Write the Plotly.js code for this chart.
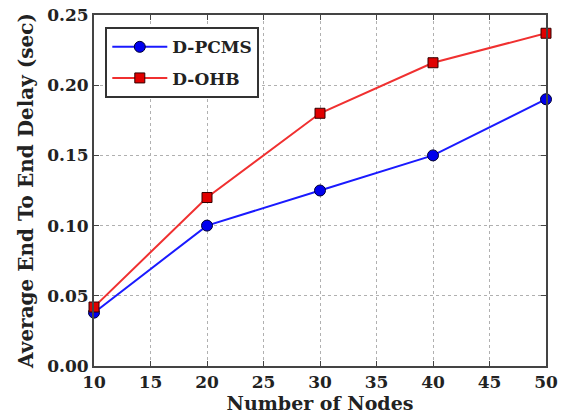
<!DOCTYPE html>
<html>
<head>
<meta charset="utf-8">
<script src="https://cdn.plot.ly/plotly-3.0.1.min.js"></script>
<style>html,body{margin:0;padding:0;background:#fff;}#chart{width:561px;height:419px;}</style>
</head>
<body>
<div id="chart"></div>
<script>
const nodes = [10, 20, 30, 40, 50];
const dpcms = [0.038, 0.100, 0.125, 0.150, 0.190];
const dohb = [0.042, 0.120, 0.180, 0.216, 0.237];
const xTicks = [10, 15, 20, 25, 30, 35, 40, 45, 50];
const yTicks = [0.00, 0.05, 0.10, 0.15, 0.20, 0.25];

const fontFam = '"DejaVu Serif", "Liberation Serif", serif';

const traces = [
  {
    x: nodes, y: dpcms, name: 'D-PCMS', legendgroup: 'g1', type: 'scatter', mode: 'lines+markers',
    line: {color: '#1a1aff', width: 2},
    marker: {symbol: 'circle', size: 11, color: '#0000ee', line: {color: '#000033', width: 1}},
    cliponaxis: false
  },
  {
    x: nodes, y: dohb, name: 'D-OHB', legendgroup: 'g2', type: 'scatter', mode: 'lines+markers',
    line: {color: '#f03030', width: 2},
    marker: {symbol: 'square', size: 10, color: '#e00000', line: {color: '#330000', width: 1}},
    cliponaxis: false
  }
];

const axisCommon = {
  showline: true, mirror: 'ticks', linecolor: '#444', linewidth: 2,
  ticks: 'inside', ticklen: 5, tickcolor: '#444', tickwidth: 1,
  showgrid: true, gridcolor: '#b0b0b0', griddash: 'dot', gridwidth: 1,
  zeroline: false,
  tickfont: {family: fontFam, size: 17, color: '#222', weight: 'bold'}
};

const layout = {
  width: 561, height: 419,
  margin: {l: 94, r: 15, t: 15, b: 53},
  paper_bgcolor: '#fff', plot_bgcolor: '#fff',
  showlegend: true,
  legend: {
    x: 0.025, y: 0.965, xanchor: 'left', yanchor: 'top',
    bordercolor: '#333', borderwidth: 2, bgcolor: '#fff',
    font: {family: fontFam, size: 17, color: '#222', weight: 'bold'},
    tracegroupgap: 6, itemwidth: 55
  },
  xaxis: Object.assign({}, axisCommon, {
    range: [10, 50], tickvals: xTicks, ticktext: xTicks.map(String),
    title: {text: 'Number of Nodes', standoff: 2,
            font: {family: fontFam, size: 19, color: '#222', weight: 'bold'}}
  }),
  yaxis: Object.assign({}, axisCommon, {
    range: [0, 0.25], tickvals: yTicks, ticktext: yTicks.map(v => v.toFixed(2)),
    title: {text: 'Average End To End Delay (sec)', standoff: 8,
            font: {family: fontFam, size: 20, color: '#222', weight: 'bold'}}
  })
};

Plotly.newPlot('chart', traces, layout, {displayModeBar: false, staticPlot: true});
</script>
</body>
</html>
